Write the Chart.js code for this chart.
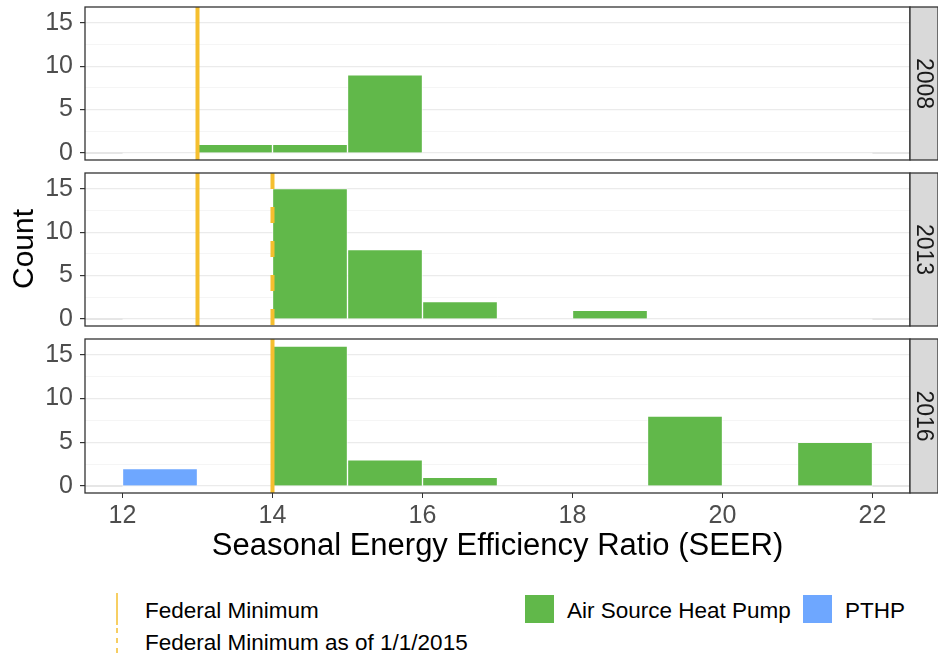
<!DOCTYPE html>
<html>
<head>
<meta charset="utf-8">
<script src="https://cdn.jsdelivr.net/npm/chart.js@4.4.1/dist/chart.umd.min.js"></script>
<style>
  body { margin: 0; background: #fff; font-family: "Liberation Sans", Arial, sans-serif; }
  #wrap { position: relative; width: 938px; height: 657px; overflow: hidden; }
  canvas { position: absolute; left: 0; }
  .ylab { position: absolute; left: 23px; top: 249px; transform: translate(-50%, -50%) rotate(-90deg);
          font-size: 30px; color: #000; white-space: nowrap; }
  .leg { position: absolute; font-size: 22.5px; line-height: 1; color: #000; white-space: nowrap; }
  .key { position: absolute; }
</style>
</head>
<body>
<div id="wrap">
  <canvas id="p2008" width="938" height="170" style="top:0px"></canvas>
  <canvas id="p2013" width="938" height="170" style="top:166px"></canvas>
  <canvas id="p2016" width="938" height="233" style="top:332px"></canvas>
  <div class="ylab">Count</div>

  <svg class="key" style="left:112px;top:593px" width="10" height="32"><line x1="5" y1="0" x2="5" y2="32" stroke="#F5BF2F" stroke-width="1.5"/></svg>
  <svg class="key" style="left:112px;top:628px" width="10" height="29"><line x1="5" y1="0" x2="5" y2="29" stroke="#F5BF2F" stroke-width="1.5" stroke-dasharray="5 5"/></svg>
  <div class="leg" style="left:145px;top:600px">Federal Minimum</div>
  <div class="leg" style="left:145px;top:632px">Federal Minimum as of 1/1/2015</div>
  <div class="key" style="left:525px;top:595px;width:29px;height:28px;background:#61B84A"></div>
  <div class="leg" style="left:567px;top:600px">Air Source Heat Pump</div>
  <div class="key" style="left:803px;top:595px;width:29px;height:28px;background:#6EA7FF"></div>
  <div class="leg" style="left:845px;top:600px">PTHP</div>
</div>
<script>
// histogram bins (centres, width 1)
const seerBins = [12.5, 13.5, 14.5, 15.5, 16.5, 17.5, 18.5, 19.5, 20.5, 21.5];
const ashp2008 = [0, 1, 1, 9, 0, 0, 0, 0, 0, 0];
const ashp2013 = [0, 0, 15, 8, 2, 0, 1, 0, 0, 0];
const ashp2016 = [0, 0, 16, 3, 1, 0, 0, 8, 0, 5];
const pthp2008 = [0, 0, 0, 0, 0, 0, 0, 0, 0, 0];
const pthp2013 = [0, 0, 0, 0, 0, 0, 0, 0, 0, 0];
const pthp2016 = [2, 0, 0, 0, 0, 0, 0, 0, 0, 0];
const years = ['2008', '2013', '2016'];
const fedMin = [13, 13, 14];
const fedMin2015 = [null, 14, null];
const emptyBinEdges = [[11.5, 12], [22, 22.5]];
const xTicks = [12, 14, 16, 18, 20, 22];
const yTicks = [0, 2.5, 5, 7.5, 10, 12.5, 15];
const xRange = [11.5, 22.5];
const yRange = [-0.8, 16.8];

const GREEN = '#61B84A', BLUE = '#6EA7FF', GOLD = '#F5BF2F';
Chart.defaults.font.family = '"Liberation Sans", Arial, sans-serif';

const panelFrame = {
  id: 'panelFrame',
  afterDraw(chart, args, opts) {
    const { ctx, chartArea: a } = chart;
    const sw = chart.width - a.right;
    ctx.save();
    ctx.strokeStyle = '#333333';
    ctx.lineWidth = 1.3;
    ctx.strokeRect(a.left, a.top, a.right - a.left, a.bottom - a.top);
    ctx.fillStyle = '#d9d9d9';
    ctx.fillRect(a.right, a.top, sw, a.bottom - a.top);
    ctx.strokeRect(a.right, a.top, sw, a.bottom - a.top);
    ctx.translate(a.right + sw / 2, (a.top + a.bottom) / 2);
    ctx.rotate(Math.PI / 2);
    ctx.fillStyle = '#1a1a1a';
    ctx.font = '23px "Liberation Sans", Arial, sans-serif';
    ctx.textAlign = 'center';
    ctx.textBaseline = 'middle';
    ctx.fillText(opts.label, 0, 1);
    ctx.restore();
  }
};

function binData(counts) {
  return seerBins.map((x, i) => ({ x: x, y: counts[i] })).filter(d => d.y > 0);
}

function vline(v, dash) {
  return {
    type: 'line', data: [{ x: v, y: yRange[1] }, { x: v, y: yRange[0] }],
    borderColor: GOLD, borderWidth: 4, borderDash: dash, pointRadius: 0, order: 0
  };
}

function makePanel(id, idx, ashp, pthp, isBottom) {
  const datasets = [];
  emptyBinEdges.forEach(e => datasets.push({
    type: 'line', data: e.map(x => ({ x: x, y: 0 })),
    borderColor: '#e6e6e6', borderWidth: 2, pointRadius: 0, order: 3
  }));
  datasets.push({
    label: 'Air Source Heat Pump', data: binData(ashp), backgroundColor: GREEN,
    borderColor: 'rgba(255,255,255,0.7)', borderWidth: 1,
    barPercentage: 1, categoryPercentage: 1, grouped: false, order: 2
  });
  datasets.push({
    label: 'PTHP', data: binData(pthp), backgroundColor: BLUE,
    borderColor: 'rgba(255,255,255,0.7)', borderWidth: 1,
    barPercentage: 1, categoryPercentage: 1, grouped: false, order: 2
  });
  datasets.push(vline(fedMin[idx], []));
  if (fedMin2015[idx] !== null) datasets.push(vline(fedMin2015[idx], [16, 18]));

  new Chart(document.getElementById(id), {
    type: 'bar',
    data: { datasets },
    plugins: [panelFrame],
    options: {
      responsive: false,
      animation: false,
      layout: { padding: { top: 7, right: 28, bottom: 0, left: 0 } },
      plugins: { legend: { display: false }, tooltip: { enabled: false }, panelFrame: { label: years[idx] } },
      scales: {
        x: {
          type: 'linear', min: xRange[0], max: xRange[1], offset: false,
          afterBuildTicks: s => { s.ticks = xTicks.map(v => ({ value: v })); },
          afterFit: s => { s.height = isBottom ? 72 : 10; s.paddingLeft = 0; s.paddingRight = 0; },
          border: { display: false },
          grid: { offset: false, drawOnChartArea: false, drawTicks: isBottom, tickLength: 5, tickColor: '#333333' },
          ticks: { display: isBottom, autoSkip: false, maxRotation: 0, color: '#4d4d4d', font: { size: 25 }, padding: 3 },
          title: { display: isBottom, text: 'Seasonal Energy Efficiency Ratio (SEER)', color: '#000',
                   font: { size: 31 }, padding: { top: 0, bottom: 0 } }
        },
        y: {
          min: yRange[0], max: yRange[1],
          afterBuildTicks: s => { s.ticks = yTicks.map(v => ({ value: v })); },
          afterFit: s => { s.width = 85; s.paddingTop = 0; s.paddingBottom = 0; },
          border: { display: false },
          grid: {
            color: c => (c.tick && c.tick.value % 5 === 0) ? '#ebebeb' : '#f3f3f3',
            lineWidth: c => (c.tick && c.tick.value % 5 === 0) ? 1.2 : 0.8,
            tickColor: c => (c.tick && c.tick.value % 5 === 0) ? '#333333' : 'rgba(0,0,0,0)',
            tickLength: 5
          },
          ticks: {
            autoSkip: false, color: '#4d4d4d', font: { size: 25 }, padding: 7,
            callback: v => (v % 5 === 0 ? String(v) : '')
          }
        }
      }
    }
  });
}

makePanel('p2008', 0, ashp2008, pthp2008, false);
makePanel('p2013', 1, ashp2013, pthp2013, false);
makePanel('p2016', 2, ashp2016, pthp2016, true);
</script>
</body>
</html>
